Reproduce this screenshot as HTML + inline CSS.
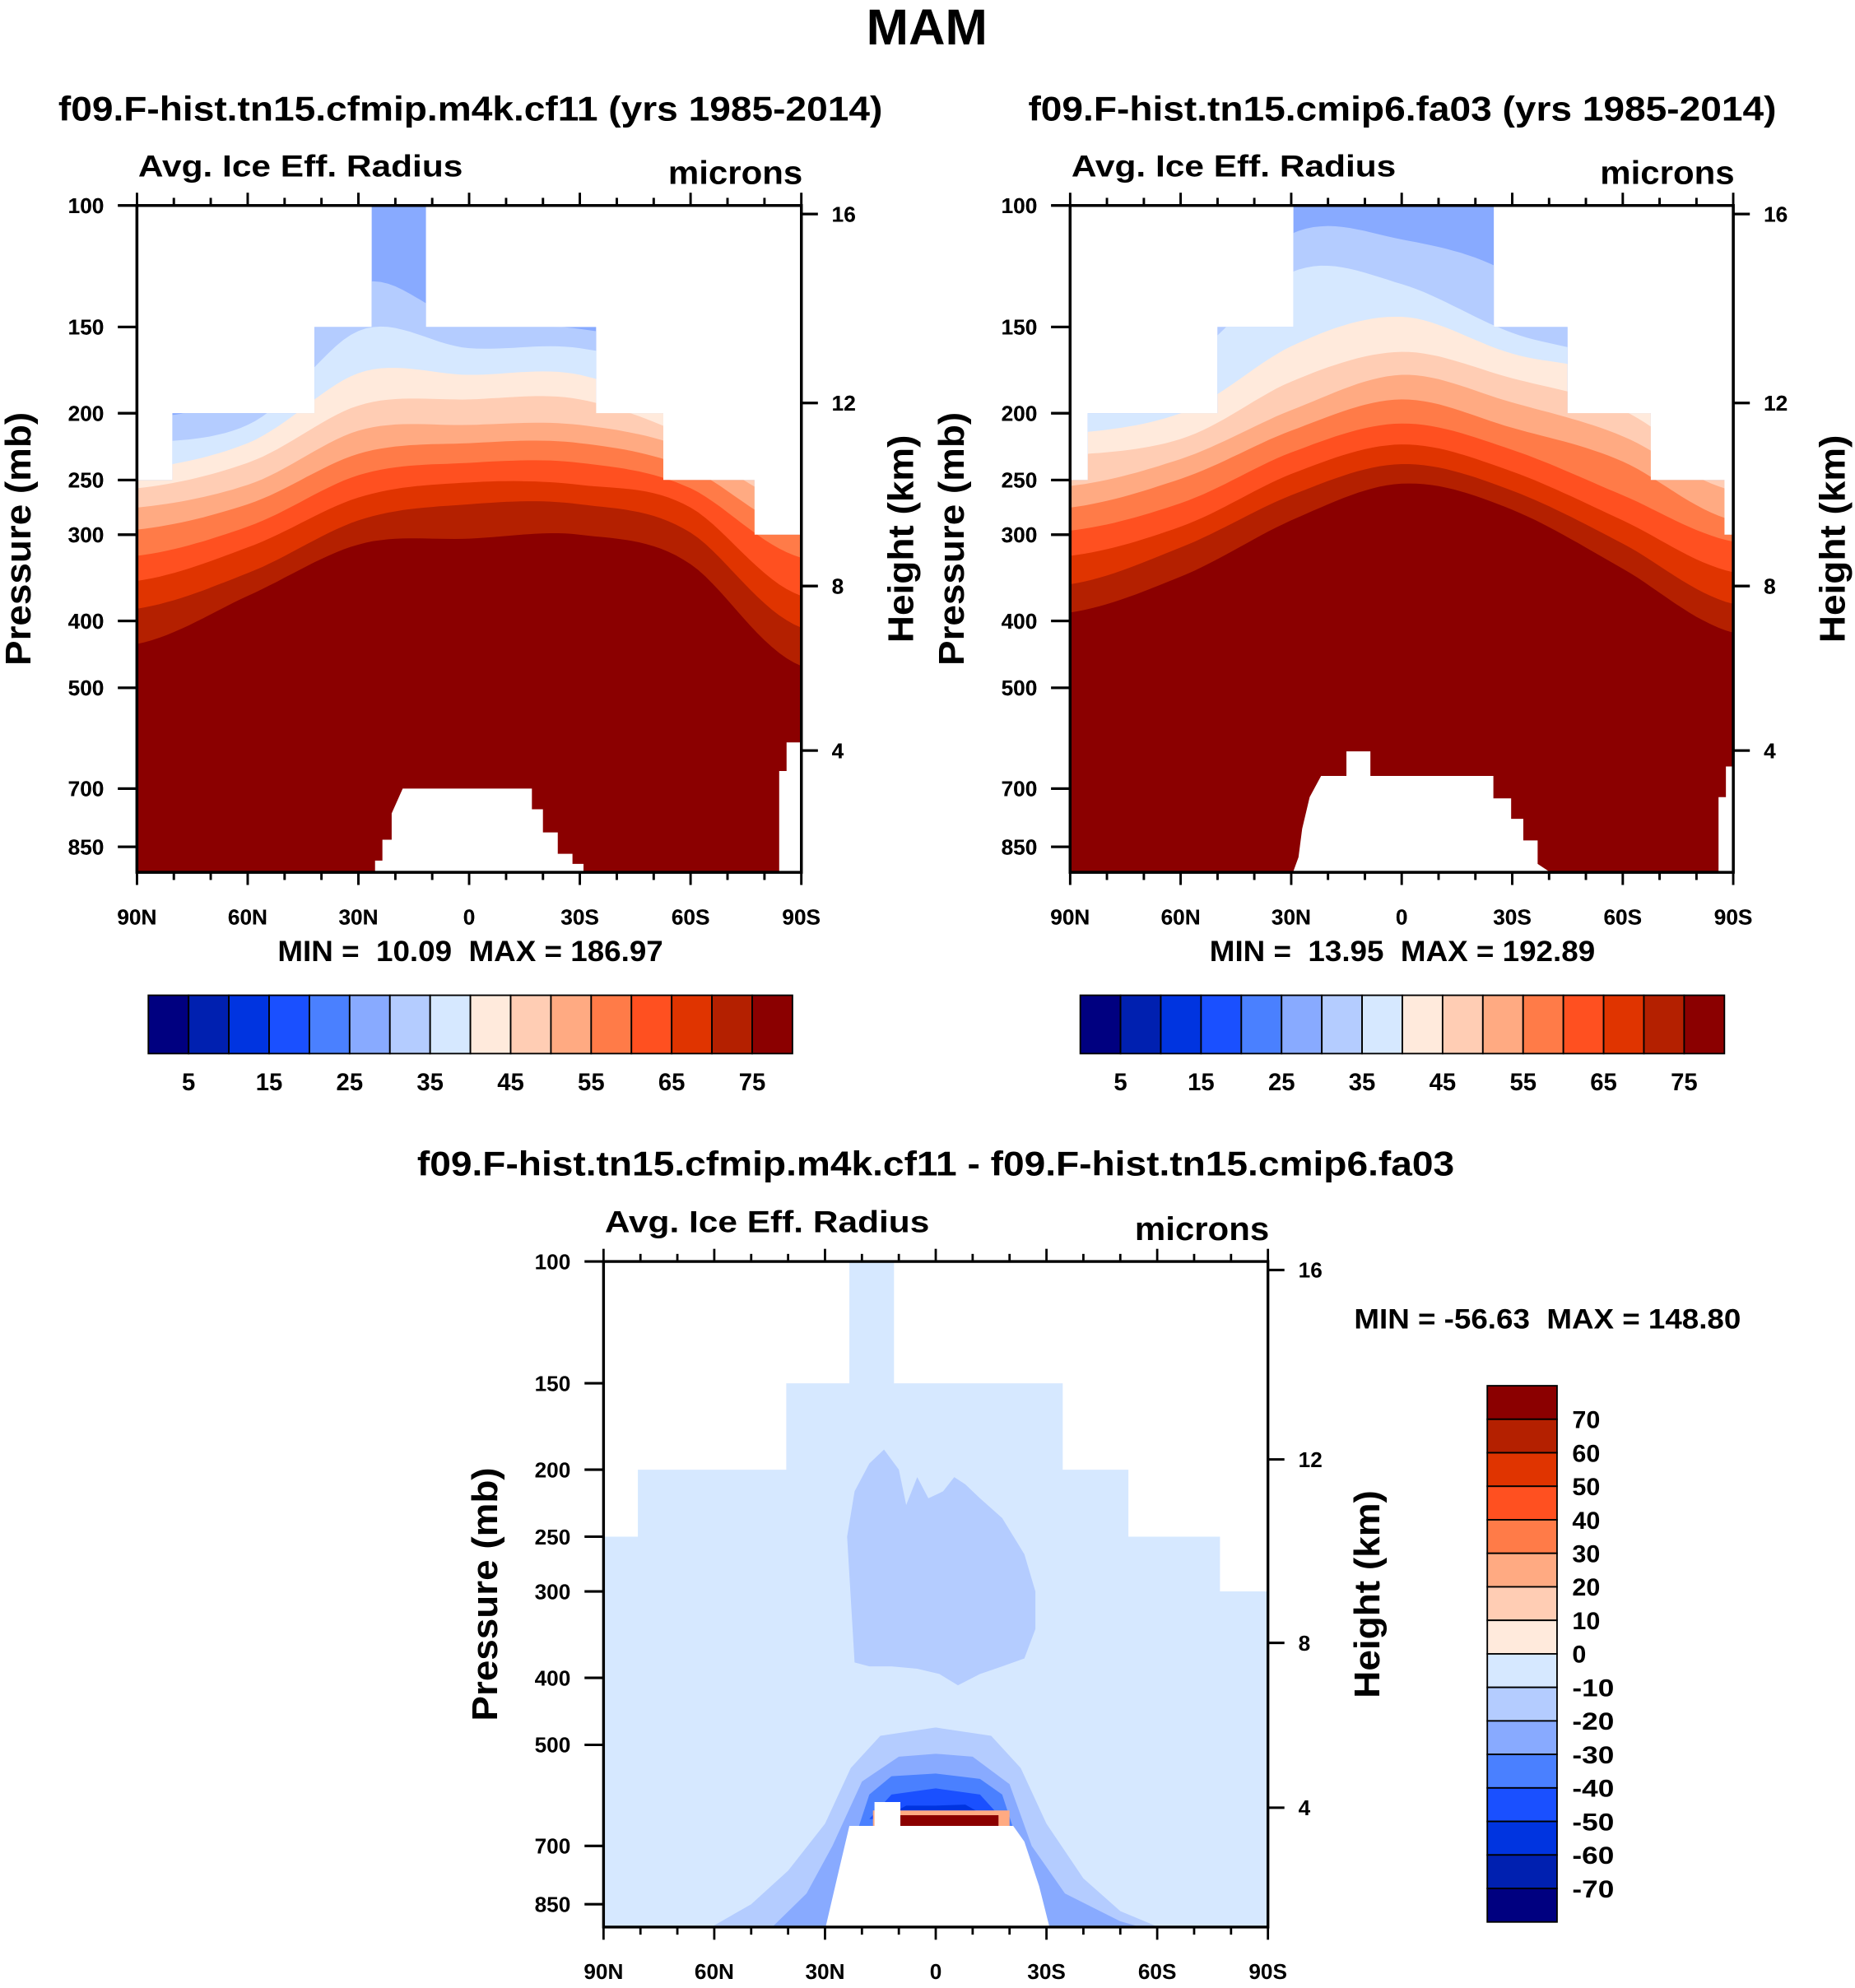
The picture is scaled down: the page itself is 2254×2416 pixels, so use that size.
<!DOCTYPE html>
<html><head><meta charset="utf-8"><style>
html,body{margin:0;padding:0;background:#fff;}
svg{display:block;font-family:"Liberation Sans",Arial,sans-serif;font-weight:bold;}
</style></head><body>
<svg id="fig" width="2254" height="2416" viewBox="0 0 1463 1568" xmlns="http://www.w3.org/2000/svg"></svg>
<script>
// ---------- data ----------
const lats7 = [90, 60, 30, 0, -30, -60, -90];
const colors = ['#000080','#0020b0','#0034e0','#1a50ff','#4a80ff','#88aaff','#b4ccff','#d6e8ff','#ffeadc','#ffcdb4','#ffaa82','#ff7b48','#ff5020','#e03400','#b42000','#8b0000'];
const absLevelLabels = ['5','15','25','35','45','55','65','75'];
const diffLevelLabels = ['70','60','50','40','30','20','10','0','-10','-20','-30','-40','-50','-60','-70'];
const pressureTicks = [100,150,200,250,300,400,500,700,850];
const heightTicks = [16,12,8,4];
const latMajor = [90,60,30,0,-30,-60,-90];
const latLabels = ['90N','60N','30N','0','30S','60S','90S'];

// panel 1 (cf11): pressure (mb) of top of each band, at lats7
const p1Band30 = [204,187,130,148,151,165,221];
const p1Band35 = [221,208,152,161,161,179,231];
const p1Band40 = [241,221,175,176,176,204,252];
const p1Band45 = [257,236,195,191,191,217,263];
const p1Band50 = [274,254,212,208,208,226,274];
const p1Band55 = [295,271,229,221,221,241,298];
const p1Band60 = [322,292,246,236,236,257,324];
const p1Band65 = [350,313,265,252,254,274,368];
const p1Band70 = [384,341,286,271,271,298,409];
const p1Band75 = [432,368,310,304,300,331,465];
const p1MaskEdges = [90,80.4,41.9,26.4,11.7,-34.4,-52.6,-77.3,-90];
const p1MaskTops = [250,200,150,100,150,200,250,300];
const p1SurfLat = [27,25.5,25.5,23.5,23.5,21,21,18,-17,-17,-20,-20,-24,-24,-28,-28,-31,-31,-34.4];
const p1SurfP = [925,925,890,890,830,830,760,700,700,750,750,810,810,870,870,900,900,925,925];

// panel 2 (fa03)
const p2Band30 = [185,150,110,112,126,165,220];
const p2Band35 = [200,170,125,130,153,172,228];
const p2Band40 = [214,200,160,145,164,180,236];
const p2Band45 = [230,218,180,163,178,198,245];
const p2Band50 = [255,233,198,176,193,216,259];
const p2Band55 = [274,249,212,191,210,235,286];
const p2Band60 = [296,270,228,207,226,263,307];
const p2Band65 = [322,292,245,222,243,286,340];
const p2Band70 = [354,313,263,237,259,309,378];
const p2Band75 = [389,345,286,253,276,336,416];
const p2MaskEdges = [90,85.2,50,29.4,-25,-45,-67.6,-87.6,-90];
const p2MaskTops = [250,200,150,100,150,200,250,300];
const p2SurfLat = [29.5,28,27,25,21.9,15,15,8.5,8.5,-24.9,-24.9,-29.7,-29.7,-33,-33,-36.9,-36.9,-40.3];
const p2SurfP = [925,880,800,720,671,671,618,618,671,671,723,723,774,774,832,832,900,925];

// panel 3 (difference)
const p3MaskEdges = [90,80.7,40.5,23.4,11.3,-34.4,-52.2,-77,-90];
const p3MaskTops = [250,200,150,100,150,200,250,300];
const p3BlobLat = [22,24,22,18,14,10,8,5,2,-2,-5,-8,-12,-18,-24,-27,-27,-24,-18,-12,-6,-1,5,12,18,22];
const p3BlobP = [380,250,215,196,187,200,225,205,220,215,205,210,220,235,265,300,340,375,385,395,410,395,388,385,385,380];
const p3Arch20Lat = [62,50,40,30,23,15,0,-15,-23,-30,-40,-50,-62];
const p3Arch20P = [925,850,760,650,540,485,472,485,540,650,780,870,925];
const p3Arch30Lat = [45,35,28,20,10,0,-10,-20,-26,-35,-50,-58];
const p3Arch30P = [925,820,700,565,520,515,520,570,700,820,900,925];
const p3Arch40Lat = [21,18,12,0,-12,-18,-21];
const p3Arch40P = [660,590,555,550,560,590,660];
const p3Arch50Lat = [18,12,0,-12,-18];
const p3Arch50P = [640,590,578,590,640];
const p3Arch60Lat = [16,8,0,-8,-16];
const p3Arch60P = [645,612,612,610,645];
const p3WarmLat = [17,-20,-20,17];
const p3WarmP = [622,622,660,660];
const p3CoreLat = [11,-17,-17,11];
const p3CoreP = [632,632,660,660];
const p3SurfLat = [30,26,23.4,16.6,16.6,9.6,9.6,-21,-24,-28,-31];
const p3SurfP = [925,750,655,655,605,605,655,655,690,800,925];

// ---------- drawing ----------
const NS = 'http://www.w3.org/2000/svg';
const svg = document.getElementById('fig');
function mk(tag, attrs, parent){ const e=document.createElementNS(NS,tag); for(const k in attrs) e.setAttribute(k,attrs[k]); (parent||svg).appendChild(e); return e; }
function txt(s, attrs, parent){ const e=mk('text',attrs,parent); e.textContent=s; return e; }

function makePanel(x0,x1,y0,y1,k){
  return { x0,x1,y0,y1,
    x: lat => x0 + (90-lat)/180*(x1-x0),
    y: p => y0 + k*Math.log(p/100) };
}
function heightToP(km){ const z=km*1000; return z<11000 ? 1013.25*Math.pow(1-2.25577e-5*z,5.25588) : 226.32*Math.exp(-0.000157688*(z-11000)); }

function catmull(lats, vals){
  const pts=[];
  for(let lat=90; lat>=-90; lat-=2){
    let i=0; while(i<lats.length-2 && lat<lats[i+1]) i++;
    const t=(lats[i]-lat)/(lats[i]-lats[i+1]);
    const p0=vals[Math.max(i-1,0)],p1=vals[i],p2=vals[i+1],p3=vals[Math.min(i+2,vals.length-1)];
    const v=0.5*((2*p1)+(-p0+p2)*t+(2*p0-5*p1+4*p2-p3)*t*t+(-p0+3*p1-3*p2+p3)*t*t*t);
    pts.push([lat,v]);
  }
  return pts;
}
function polyStr(P, pts){ return pts.map(q=>P.x(q[0]).toFixed(1)+','+P.y(q[1]).toFixed(1)).join(' '); }

function drawAxes(P, g, name){
  const ax = mk('g',{},g);
  
  
  mk('rect',{x:P.x0,y:P.y0,width:P.x1-P.x0,height:P.y1-P.y0,fill:'none',stroke:'#000','stroke-width':2.2},ax);
  pressureTicks.forEach(p=>{
    const y=P.y(p);
    mk('line',{x1:P.x0-15,x2:P.x0,y1:y,y2:y,stroke:'#000','stroke-width':2},ax);
    const t=txt(String(p),{x:P.x0-26,y:y+6,'text-anchor':'end','font-size':17},ax);
    
    
  });
  heightTicks.forEach(h=>{
    const y=P.y(heightToP(h));
    mk('line',{x1:P.x1,x2:P.x1+13,y1:y,y2:y,stroke:'#000','stroke-width':2},ax);
    const t=txt(String(h),{x:P.x1+24,y:y+6,'font-size':17},ax);
    
    
  });
  for(let lat=90; lat>=-90; lat-=10){
    const x=P.x(lat), major=(lat%30===0), L=major?10:6;
    mk('line',{x1:x,x2:x,y1:P.y0,y2:P.y0-L,stroke:'#000','stroke-width':1.8},ax);
    mk('line',{x1:x,x2:x,y1:P.y1,y2:P.y1+L,stroke:'#000','stroke-width':1.8},ax);
  }
  latMajor.forEach((lat,i)=>{
    const t=txt(latLabels[i],{x:P.x(lat),y:P.y1+41,'text-anchor':'middle','font-size':17},ax);
    
    
  });
}

function maskPath(P, edges, tops){
  let d='M'+P.x(edges[0])+','+P.y1;
  for(let i=0;i<tops.length;i++){
    d+=' L'+P.x(edges[i])+','+P.y(tops[i])+' L'+P.x(edges[i+1])+','+P.y(tops[i]);
  }
  d+=' L'+P.x(edges[edges.length-1])+','+P.y1+' Z';
  return d;
}

function drawAbsPanel(P, id, bands, baseIdx, edges, tops, surfLat, surfP, name){
  const g=mk('g',{});
  
  
  const defs=mk('defs',{},g);
  const cp=mk('clipPath',{id:id},defs);
  mk('path',{d:maskPath(P,edges,tops)},cp);
  const cg=mk('g',{'clip-path':'url(#'+id+')'},g);
  const base=mk('rect',{x:P.x0,y:P.y0,width:P.x1-P.x0,height:P.y1-P.y0,fill:colors[baseIdx]},cg);
  
  
  bands.forEach((arr,i)=>{
    const pts=catmull(lats7,arr);
    const s=polyStr(P,pts)+' '+P.x1+','+(P.y1+5)+' '+P.x0+','+(P.y1+5);
    const pg=mk('polygon',{points:s,fill:colors[baseIdx+1+i]},cg);
    
    
  });
  const sp=surfLat.map((l,i)=>[l,surfP[i]]);
  const surf=mk('polygon',{points:polyStr(P,sp)+' '+P.x(surfLat[surfLat.length-1])+','+(P.y1+2)+' '+P.x(surfLat[0])+','+(P.y1+2),fill:'#fff'},g);
  
  
  drawAxes(P,g,name);
}

// MAM title
let t=txt('MAM',{x:731,y:35,'text-anchor':'middle','font-size':40});



const P1=makePanel(108,632,162,688,236.4);
const P2=makePanel(844,1367,162,688,236.4);
const P3=makePanel(476,1000,995,1520,236.9);

drawAbsPanel(P1,'clip1',[p1Band30,p1Band35,p1Band40,p1Band45,p1Band50,p1Band55,p1Band60,p1Band65,p1Band70,p1Band75],5,p1MaskEdges,p1MaskTops,p1SurfLat,p1SurfP,'panel-cf11');
const edge1=mk('polygon',{points:[[-84,925],[-84,660],[-86,660],[-86,600],[-90,600],[-90,925]].map(q=>P1.x(q[0])+','+P1.y(q[1])).join(' '),fill:'#fff'});


drawAxes(P1,svg,'panel-cf11-frame');
drawAbsPanel(P2,'clip2',[p2Band30,p2Band35,p2Band40,p2Band45,p2Band50,p2Band55,p2Band60,p2Band65,p2Band70,p2Band75],5,p2MaskEdges,p2MaskTops,p2SurfLat,p2SurfP,'panel-fa03');
const edge2=mk('polygon',{points:[[-86,925],[-86,720],[-88,720],[-88,650],[-90,650],[-90,925]].map(q=>P2.x(q[0])+','+P2.y(q[1])).join(' '),fill:'#fff'});


drawAxes(P2,svg,'panel-fa03-frame');

// panel 3
(function(){
  const P=P3;
  const g=mk('g',{});
  
  
  const defs=mk('defs',{},g);
  const cp=mk('clipPath',{id:'clip3'},defs);
  mk('path',{d:maskPath(P,p3MaskEdges,p3MaskTops)},cp);
  const cg=mk('g',{'clip-path':'url(#clip3)'},g);
  const base=mk('rect',{x:P.x0,y:P.y0,width:P.x1-P.x0,height:P.y1-P.y0,fill:colors[7]},cg);
  
  
  const shapes=[[p3BlobLat,p3BlobP,6,'upper-negative-blob'],[p3Arch20Lat,p3Arch20P,6,'arch-minus-10'],[p3Arch30Lat,p3Arch30P,5,'arch-minus-20'],[p3Arch40Lat,p3Arch40P,4,'arch-minus-30'],[p3Arch50Lat,p3Arch50P,3,'arch-minus-40'],[p3Arch60Lat,p3Arch60P,2,'arch-minus-50'],[p3WarmLat,p3WarmP,10,'warm-fringe'],[p3CoreLat,p3CoreP,15,'warm-core']];
  shapes.forEach(s=>{
    const pts=s[0].map((l,i)=>[l,s[1][i]]);
    let str=polyStr(P,pts);
    if(s[1][0]>=900) str+=' '+P.x(s[0][s[0].length-1])+','+(P.y1+3)+' '+P.x(s[0][0])+','+(P.y1+3);
    const pg=mk('polygon',{points:str,fill:colors[s[2]]},cg);
    
    
  });
  const sp=p3SurfLat.map((l,i)=>[l,p3SurfP[i]]);
  const surf=mk('polygon',{points:polyStr(P,sp)+' '+P.x(p3SurfLat[p3SurfLat.length-1])+','+(P.y1+2)+' '+P.x(p3SurfLat[0])+','+(P.y1+2),fill:'#fff'},g);
  
  
  drawAxes(P,g,'panel-difference');
})();

// text labels per panel
function panelText(P, title, tlen, cx, ty){
  let e=txt(title,{x:cx,y:ty,'text-anchor':'middle','font-size':27,textLength:tlen,lengthAdjust:'spacingAndGlyphs'});
  
  
  e=txt('Avg. Ice Eff. Radius',{x:P.x0+1,y:P.y0-23,'font-size':24,textLength:256,lengthAdjust:'spacingAndGlyphs'});
  
  
  e=txt('microns',{x:P.x1+1,y:P.y0-17,'text-anchor':'end','font-size':26,textLength:106,lengthAdjust:'spacingAndGlyphs'});
  
  
  const cy=(P.y0+P.y1)/2;
  e=txt('Pressure (mb)',{x:0,y:0,'text-anchor':'middle','font-size':28,textLength:200,lengthAdjust:'spacingAndGlyphs',transform:'translate('+(P.x0-84)+','+cy+') rotate(-90)'});
  
  
  e=txt('Height (km)',{x:0,y:0,'text-anchor':'middle','font-size':28,textLength:164,lengthAdjust:'spacingAndGlyphs',transform:'translate('+(P.x1+88)+','+cy+') rotate(-90)'});
  
  
}
panelText(P1,'f09.F-hist.tn15.cfmip.m4k.cf11 (yrs 1985-2014)',650,371,95);
panelText(P2,'f09.F-hist.tn15.cmip6.fa03 (yrs 1985-2014)',590,1106,95);
panelText(P3,'f09.F-hist.tn15.cfmip.m4k.cf11 - f09.F-hist.tn15.cmip6.fa03',818,738,927);

t=txt('MIN =  10.09  MAX = 186.97',{x:371,y:758,'text-anchor':'middle','font-size':23,'xml:space':'preserve',style:'white-space:pre',textLength:304,lengthAdjust:'spacingAndGlyphs'});


t=txt('MIN =  13.95  MAX = 192.89',{x:1106,y:758,'text-anchor':'middle','font-size':23,'xml:space':'preserve',style:'white-space:pre',textLength:304,lengthAdjust:'spacingAndGlyphs'});


t=txt('MIN = -56.63  MAX = 148.80',{x:1068,y:1048,'font-size':22,'xml:space':'preserve',style:'white-space:pre',textLength:305,lengthAdjust:'spacingAndGlyphs'});



// horizontal colorbars
function hbar(x0,x1,y0,y1,name){
  const g=mk('g',{});
  
  
  const w=(x1-x0)/colors.length;
  colors.forEach((c,i)=>{
    const r=mk('rect',{x:x0+i*w,y:y0,width:w,height:y1-y0,fill:c,stroke:'#000','stroke-width':1.2},g);
    
    
  });
  absLevelLabels.forEach((s,i)=>{
    const e=txt(s,{x:x0+w*(1+2*i),y:y1+29,'text-anchor':'middle','font-size':19},g);
    
    
  });
}
hbar(117,625,785,831,'colorbar-cf11');
hbar(852,1360,785,831,'colorbar-fa03');

// vertical colorbar
(function(){
  const x0=1173,x1=1228,y0=1093,y1=1516;
  const g=mk('g',{});
  
  
  const h=(y1-y0)/colors.length;
  colors.slice().reverse().forEach((c,i)=>{
    const r=mk('rect',{x:x0,y:y0+i*h,width:x1-x0,height:h,fill:c,stroke:'#000','stroke-width':1.2},g);
    
    
  });
  diffLevelLabels.forEach((s,i)=>{
    const e=txt(s,{x:1240,y:y0+h*(i+1)+7,'font-size':19,textLength:s.length*11,lengthAdjust:'spacingAndGlyphs'},g);
    
    
  });
})();
</script>
</body></html>
